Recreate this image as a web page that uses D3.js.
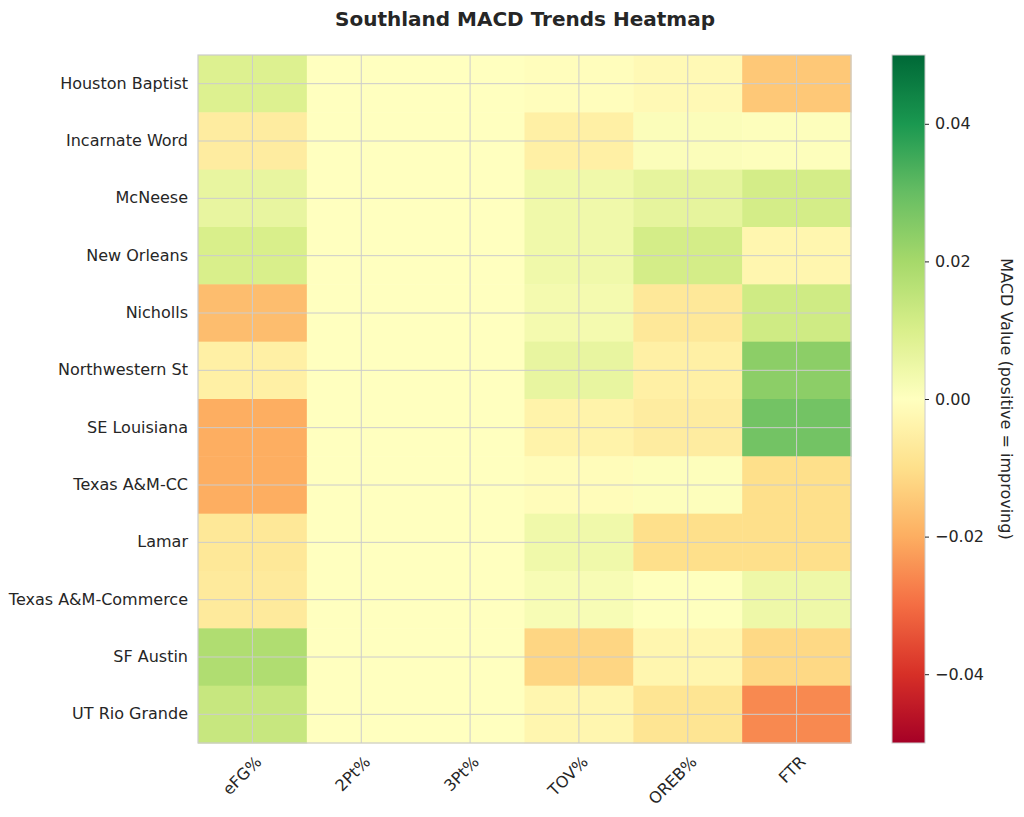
<!DOCTYPE html>
<html>
<head>
<meta charset="utf-8">
<script src="https://cdn.jsdelivr.net/npm/d3@7"></script>
<style>
  body { margin: 0; background: #fff; font-family: 'DejaVu Sans', sans-serif; }
  text { fill: #262626; }
</style>
</head>
<body>
<div id="chart"></div>
<script>
// Data
const teams = ['Houston Baptist', 'Incarnate Word', 'McNeese', 'New Orleans', 'Nicholls',
  'Northwestern St', 'SE Louisiana', 'Texas A&M-CC', 'Lamar', 'Texas A&M-Commerce',
  'SF Austin', 'UT Rio Grande']
const metrics = ['eFG%', '2Pt%', '3Pt%', 'TOV%', 'OREB%', 'FTR']

// one array per metric, same order as teams
const efg  = [0.009, -0.006, 0.006, 0.010, -0.017, -0.005, -0.020, -0.020, -0.0075, -0.0068, 0.018, 0.0135]
const twoP = [0, 0, 0, 0, 0, 0, 0, 0, 0, 0, 0, 0]
const threeP = [0, 0, 0, 0, 0, 0, 0, 0, 0, 0, 0, 0]
const tov  = [-0.0005, -0.005, 0.004, 0.004, 0.003, 0.006, -0.004, -0.001, 0.004, 0.002, -0.012, -0.003]
const oreb = [-0.002, 0.001, 0.0066, 0.011, -0.0074, -0.005, -0.006, 0.0005, -0.010, 0.0002, -0.003, -0.0084]
const ftr  = [-0.0148, 0.0005, 0.011, -0.003, 0.012, 0.024, 0.028, -0.010, -0.010, 0.0045, -0.0115, -0.0257]

const series = [efg, twoP, threeP, tov, oreb, ftr]
const colorTicks = [-0.04, -0.02, 0, 0.02, 0.04]

// RdYlGn, linearly interpolated (matplotlib style)
const rdylgn = ['#a50026', '#d73027', '#f46d43', '#fdae61', '#fee08b', '#ffffbf',
  '#d9ef8b', '#a6d96a', '#66bd63', '#1a9850', '#006837']
const interp = d3.piecewise(d3.interpolateRgb, rdylgn)

// Build cells
const cells = []
teams.forEach((t, i) => {
  metrics.forEach((m, j) => {
    cells.push({ team: t, metric: m, value: series[j][i] })
  })
})

const W = 1024
const H = 817
const plotL = 198, plotR = 851, plotT = 55, plotB = 743

const svg = d3.select('#chart').append('svg')
  .attr('width', W)
  .attr('height', H)

// Title
svg.append('text')
  .attr('x', 525)
  .attr('y', 26)
  .attr('text-anchor', 'middle')
  .style('font-size', '20px')
  .style('font-weight', 'bold')
  .text('Southland MACD Trends Heatmap')

const x = d3.scaleBand().domain(metrics).range([plotL, plotR])
const y = d3.scaleBand().domain(teams).range([plotT, plotB])
const color = d3.scaleSequential(interp).domain([-0.05, 0.05])

// Cells
svg.append('g').selectAll('rect')
  .data(cells)
  .enter()
  .append('rect')
  .attr('x', d => x(d.metric))
  .attr('y', d => y(d.team))
  .attr('width', x.bandwidth() + 0.5)
  .attr('height', y.bandwidth() + 0.5)
  .attr('fill', d => color(d.value))

// Grid lines at cell centres
const grid = svg.append('g')
  .attr('stroke', '#cccccc')
  .attr('stroke-width', 1)
grid.selectAll('.vx')
  .data(metrics)
  .enter()
  .append('line')
  .attr('x1', d => x(d) + x.bandwidth() / 2)
  .attr('x2', d => x(d) + x.bandwidth() / 2)
  .attr('y1', plotT)
  .attr('y2', plotB)
grid.selectAll('.hy')
  .data(teams)
  .enter()
  .append('line')
  .attr('x1', plotL)
  .attr('x2', plotR)
  .attr('y1', d => y(d) + y.bandwidth() / 2)
  .attr('y2', d => y(d) + y.bandwidth() / 2)

// Frame
svg.append('rect')
  .attr('x', plotL)
  .attr('y', plotT)
  .attr('width', plotR - plotL)
  .attr('height', plotB - plotT)
  .attr('fill', 'none')
  .attr('stroke', '#cccccc')
  .attr('stroke-width', 1.2)

// Y axis
const yAxis = svg.append('g')
  .attr('transform', `translate(${plotL}, 0)`)
  .call(d3.axisLeft(y).tickSize(0).tickPadding(10))
yAxis.select('.domain').remove()
yAxis.selectAll('text')
  .style('font-size', '16px')
  .style('font-family', 'DejaVu Sans')
  .attr('fill', '#262626')

// X axis
const xAxis = svg.append('g')
  .attr('transform', `translate(0, ${plotB})`)
  .call(d3.axisBottom(x).tickSize(0))
xAxis.select('.domain').remove()
xAxis.selectAll('text')
  .style('font-size', '16px')
  .style('font-family', 'DejaVu Sans')
  .attr('fill', '#262626')
  .attr('text-anchor', 'end')
  .attr('x', 0)
  .attr('y', 0)
  .attr('dy', '0.35em')
  .attr('transform', 'translate(6, 16) rotate(-45)')

// Colour bar
const cbX = 892, cbW = 33
const defs = svg.append('defs')
const grad = defs.append('linearGradient')
  .attr('id', 'cbar')
  .attr('x1', 0).attr('y1', 1).attr('x2', 0).attr('y2', 0)
d3.range(0, 1.0001, 0.02).forEach(t => {
  grad.append('stop')
    .attr('offset', t)
    .attr('stop-color', interp(t))
})
svg.append('rect')
  .attr('x', cbX)
  .attr('y', plotT)
  .attr('width', cbW)
  .attr('height', plotB - plotT)
  .attr('fill', 'url(#cbar)')
  .attr('stroke', '#cccccc')
  .attr('stroke-width', 1)

const cScale = d3.scaleLinear().domain([-0.05, 0.05]).range([plotB, plotT])
const cAxis = svg.append('g')
  .attr('transform', `translate(${cbX + cbW}, 0)`)
  .call(d3.axisRight(cScale)
    .tickValues(colorTicks)
    .tickSize(4)
    .tickPadding(6)
    .tickFormat(d => d3.format('.2f')(d).replace('-', '\u2212')))
cAxis.select('.domain').remove()
cAxis.selectAll('line').attr('stroke', '#262626')
cAxis.selectAll('text')
  .style('font-size', '16px')
  .style('font-family', 'DejaVu Sans')
  .attr('fill', '#262626')

svg.append('text')
  .attr('transform', `translate(1007, ${(plotT + plotB) / 2}) rotate(90)`)
  .attr('text-anchor', 'middle')
  .attr('dy', '0.35em')
  .style('font-size', '16px')
  .text('MACD Value (positive = improving)')
</script>
</body>
</html>
